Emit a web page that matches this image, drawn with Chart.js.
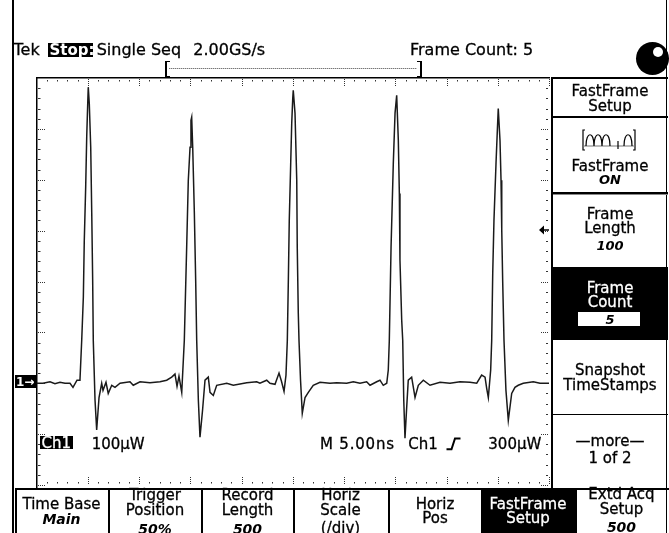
<!DOCTYPE html>
<html><head><meta charset="utf-8">
<script src="https://cdn.jsdelivr.net/npm/chart.js@4.4.0/dist/chart.umd.min.js"></script>
<style>
html,body{margin:0;padding:0;background:#fff;}
#wrap{position:relative;width:669px;height:533px;overflow:hidden;font-family:"DejaVu Sans",sans-serif;color:#000;background:#fff;}
#c{position:absolute;left:0;top:0;}
.t{position:absolute;white-space:pre;-webkit-text-stroke:0.3px currentColor;}
.b{position:absolute;}
</style></head>
<body><div id="wrap"><canvas id="c" width="669" height="533" style="width:669px;height:533px"></canvas></div>
<script>
// ---- data (time in ns, power in µW relative to the Ch1 ground marker) ----
const timeNs = [0.00,0.63,1.32,1.80,2.29,2.78,3.27,3.56,3.95,4.24,
4.41,4.57,4.66,4.80,4.90,5.00,5.05,5.15,5.29,5.39,5.48,5.54,5.71,5.87,6.10,6.36,6.49,6.78,7.00,7.34,7.66,8.15,9.12,9.44,10.10,11.07,12.05,12.70,13.19,13.51,13.71,13.90,14.17,
14.42,14.65,14.81,14.98,15.07,15.14,15.24,15.40,15.53,15.63,15.79,15.95,16.20,16.44,16.76,16.93,17.25,17.58,18.56,19.20,20.51,21.48,21.80,22.46,22.78,23.27,23.66,23.90,24.15,
24.34,24.47,24.57,24.66,24.80,24.90,25.00,25.05,25.22,25.39,25.44,25.54,25.61,25.76,25.93,26.20,26.52,27.00,27.66,28.63,29.29,30.26,30.91,31.56,32.21,32.54,33.19,33.51,33.83,34.17,
34.32,34.42,34.59,34.81,34.98,35.14,35.30,35.40,35.46,35.63,35.73,35.83,35.95,36.10,36.27,36.60,36.93,37.25,37.74,38.39,39.37,40.34,41.32,42.29,42.95,43.43,43.76,43.92,44.08,
44.31,44.41,44.51,44.63,44.83,44.96,45.05,45.22,45.32,45.39,45.48,45.61,45.80,46.03,46.36,46.68,47.00,47.49,48.47,49.12,50.00];
const powerUW = [0,0,3,-1,2,0,0,-8,6,6,
84,169,279,387,485,552,582,550,464,334,202,84,-33,-92,-28,0,-14,2,-20,-4,-8,0,3,-4,3,1,3,6,12,18,-6,14,-18,
84,267,399,464,517,523,464,334,202,84,-33,-106,-53,6,12,-18,-24,-4,0,-4,1,3,0,6,0,-2,20,4,-16,
16,84,202,320,432,511,560,576,531,399,267,138,84,6,-59,-28,-18,-4,2,0,1,0,3,0,3,-4,3,6,-4,0,
26,84,267,432,531,566,477,373,242,124,84,-33,-108,-53,6,12,-28,-4,6,-4,2,0,3,2,0,16,12,-10,-28,
26,84,216,320,432,497,540,477,399,301,202,84,-14,-73,-20,-8,-4,0,3,0,0];
const xRangeNs = [0, 50];      // 10 div x 5.00 ns
const yRangeUW = [-200, 600];  // 8 div x 100 µW
const headerTexts = ["Tek", "Stop:", "Single Seq", "2.00GS/s", "Frame Count: 5"];
const sideMenu = [["FastFrame","Setup"],["FastFrame","ON"],["Frame","Length","100"],["Frame","Count","5"],["Snapshot","TimeStamps"],["\u2014more\u2014","1 of 2"]];
const bottomMenu = [["Time Base","Main"],["Trigger","Position","50%"],["Record","Length","500"],["Horiz","Scale","(/div)"],["Horiz","Pos"],["FastFrame","Setup"],["Extd Acq","Setup","500"]];
const readouts = ["Ch1","100\u00b5W","M 5.00ns","Ch1","300\u00b5W"];

const wrap = document.getElementById('wrap');
function box(x,y,w,h,bg,extra){const d=document.createElement('div');d.className='b';Object.assign(d.style,{left:x+'px',top:y+'px',width:w+'px',height:h+'px',background:bg||'transparent'},extra||{});wrap.appendChild(d);return d;}
function txt(s,x,base,o){o=o||{};const fs=o.fs||15;const d=document.createElement('div');d.className='t';d.textContent=s;
  d.style.fontSize=fs+'px';d.style.lineHeight=fs+'px';d.style.top=(base-0.846*fs)+'px';
  if(o.center){d.style.left=(x-70)+'px';d.style.width='140px';d.style.textAlign='center';}else d.style.left=x+'px';
  if(o.bi){d.style.fontWeight='bold';d.style.fontStyle='italic';d.style.webkitTextStroke='0px';}
  if(o.bold){d.style.fontWeight='bold';d.style.webkitTextStroke='0px';}
  if(o.color)d.style.color=o.color;
  if(o.ls)d.style.letterSpacing=o.ls+'px';
  wrap.appendChild(d);return d;}

// graticule plugin
const graticule={id:'graticule',beforeDatasetsDraw(chart){
  const {ctx,chartArea:a,scales:{x,y}}=chart;ctx.save();
  ctx.fillStyle='#000';
  ctx.fillRect(Math.round(a.left)-1,Math.round(a.top)-1,Math.round(a.right-a.left)+1,1.5);
  ctx.fillRect(Math.round(a.left)-1,Math.round(a.top)-1,1.5,Math.round(a.bottom-a.top)+4);
  ctx.fillStyle='#333';
  for(let i=0;i<=50;i++){const px=Math.round(x.getPixelForValue(xRangeNs[0]+i));
    if(i===0)continue;
    if(i%5===0){for(let k=0;k<4;k++){ctx.fillRect(px,Math.round(a.top)+1+2*k,1,1);ctx.fillRect(px,Math.round(a.bottom)-2-2*k,1,1);}}
    else{ctx.fillRect(px,Math.round(a.top)+2,1,1.5);ctx.fillRect(px,Math.round(a.bottom)-3,1,1.5);}
  }
  for(let i=0;i<=40;i++){const py=Math.round(y.getPixelForValue(yRangeUW[0]+i*20));
    if(i===40)continue;
    if(i%5===0){for(let k=0;k<4;k++){ctx.fillRect(Math.round(a.left)+1+2*k,py,1,1);ctx.fillRect(Math.round(a.right)-2-2*k,py,1,1);}}
    else{ctx.fillRect(Math.round(a.left)+1,py,2.5,1);ctx.fillRect(Math.round(a.right)-3,py,2,1);}
  }
  ctx.restore();}};

new Chart(document.getElementById('c'),{
  type:'line',
  data:{datasets:[{data:timeNs.map((t,i)=>({x:t,y:powerUW[i]})),borderColor:'#1a1a1a',borderWidth:1.5,pointRadius:0,tension:0,fill:false}]},
  options:{responsive:false,animation:false,events:[],
    layout:{padding:{left:36.5,top:78,right:120,bottom:48}},
    scales:{x:{type:'linear',min:xRangeNs[0],max:xRangeNs[1],display:false},y:{min:yRangeUW[0],max:yRangeUW[1],display:false}},
    plugins:{legend:{display:false},tooltip:{enabled:false}}},
  plugins:[graticule]});

// ---- frame lines ----
box(12,0,1.8,533,'#000');          // left screen line
box(665.5,0,1.8,533,'#000');       // right screen line
// right menu
box(551,77,2,412,'#000');
box(551,77,117,1.6,'#000');
box(551,116,117,2,'#000');
box(551,192,117,2,'#000');box(553,194,115,1,'#888');
box(551,267,117,73,'#000');
box(551,413.5,117,1.6,'#000');
box(578,312,62,14,'#fff');
// bottom menu
box(15,488,654,2,'#000');
[15,107.5,200.5,292.5,387.5,574.5].forEach(x=>box(x,488,2,45,'#000'));
box(481,488,94,45,'#000');

// ---- header ----
txt(headerTexts[0],13.5,55.5,{fs:16});
box(48.3,42.7,45,14,'#000');
txt(headerTexts[1],49.5,55.5,{fs:15,bold:true,color:'#fff'});
txt(headerTexts[2],96.7,55.5,{fs:16});
txt(headerTexts[3],193.3,55.5,{fs:16});
txt(headerTexts[4],410,55.5,{fs:16});
// record bracket
box(164.5,61,3,14,'transparent',{borderLeft:'2px solid #000',borderTop:'1px solid #000',borderBottom:'1px solid #000'});
box(169,67.5,248,1.5,'transparent',{backgroundImage:'repeating-linear-gradient(90deg,#777 0 1px,#ccc 1px 2px)'});
box(417,61,3,14,'transparent',{borderRight:'2px solid #000',borderTop:'1px solid #000',borderBottom:'1px solid #000'});
// knob
box(635.5,42,33,33,'#000',{borderRadius:'50%'});
box(653,46.7,10,10,'#fff',{borderRadius:'50%'});

// ---- side menu ----
const cx=610;
txt(sideMenu[0][0],cx,97,{center:true});
txt(sideMenu[0][1],cx,111.7,{center:true});
txt(sideMenu[1][0],cx,171.7,{center:true});
txt(sideMenu[1][1],cx,184,{center:true,fs:13,bi:true});
txt(sideMenu[2][0],cx,220,{center:true});
txt(sideMenu[2][1],cx,233.5,{center:true});
txt(sideMenu[2][2],cx,250,{center:true,fs:13,bi:true});
txt(sideMenu[3][0],cx,293.3,{center:true,color:'#fff'});
txt(sideMenu[3][1],cx,307.7,{center:true,color:'#fff'});
txt(sideMenu[3][2],cx,323.5,{center:true,fs:13,bi:true});
txt(sideMenu[4][0],cx,376,{center:true});
txt(sideMenu[4][1],cx,390.7,{center:true});
txt(sideMenu[5][0],cx,446.7,{center:true});
txt(sideMenu[5][1],cx,464,{center:true});

// ---- bottom menu ----
const bx=[61.5,155,247.5,340.5,435,528,621.5];
txt(bottomMenu[0][0],bx[0],509.3,{center:true});
txt(bottomMenu[0][1],bx[0],524.3,{center:true,fs:14,bi:true});
[1,2,3].forEach(i=>{txt(bottomMenu[i][0],bx[i],500.5,{center:true});txt(bottomMenu[i][1],bx[i],516,{center:true});
  txt(bottomMenu[i][2],bx[i],533.5,i===3?{center:true}:{center:true,fs:14,bi:true});});
txt(bottomMenu[4][0],bx[4],509.8,{center:true});
txt(bottomMenu[4][1],bx[4],523.8,{center:true});
txt(bottomMenu[5][0],bx[5],509.3,{center:true,color:'#fff'});
txt(bottomMenu[5][1],bx[5],523.3,{center:true,color:'#fff'});
txt(bottomMenu[6][0],bx[6],500,{center:true});
txt(bottomMenu[6][1],bx[6],515,{center:true});
txt(bottomMenu[6][2],bx[6],532,{center:true,fs:14,bi:true});

// ---- readouts ----
box(40,436,33.3,13,'#000');
txt(readouts[0],41.5,448.3,{color:'#fff'});
txt(readouts[1],91.7,449.3);
txt(readouts[2],320,450,{ls:0.8});
txt(readouts[3],408.3,450);
txt(readouts[4],488.3,450);
// ground marker
box(15,375,21,13,'#000');
txt('1\u2192',16,386,{fs:12,bold:true,color:'#fff'});

// svg symbols: trigger slope, side arrow, FastFrame icon
function svg(x,y,w,h,inner){const d=document.createElement('div');d.className='b';Object.assign(d.style,{left:x+'px',top:y+'px',width:w+'px',height:h+'px'});
  d.innerHTML='<svg width="'+w+'" height="'+h+'" xmlns="http://www.w3.org/2000/svg">'+inner+'</svg>';wrap.appendChild(d);}
svg(445,436,17,16,'<polyline points="1.5,13.3 6.5,13.3 10,2.5 15.5,2.5" fill="none" stroke="#000" stroke-width="2"/>');
svg(538,221,12,12,'<polygon points="1,6 6,1.5 6,10.5" fill="#000"/><line x1="6" y1="6" x2="11" y2="6" stroke="#000" stroke-width="1.5"/>');
svg(582,128,56,24,'<g fill="none" stroke="#000" stroke-width="1.2">'+
 '<polyline points="3,2 1,2 1,22 3,22"/><polyline points="51,2 53,2 53,22 51,22"/>'+
 '<line x1="1" y1="18" x2="53" y2="18" stroke="#777" stroke-width="1"/>'+
 '<path d="M4 18 C4 3 12 3 12 18 C12 3 20 3 20 18 C20 3 28 3 28 18"/>'+
 '<line x1="36" y1="13" x2="36" y2="21"/>'+
 '<path d="M42 18 C42 3 50 3 50 18"/></g>');
</script></body></html>
